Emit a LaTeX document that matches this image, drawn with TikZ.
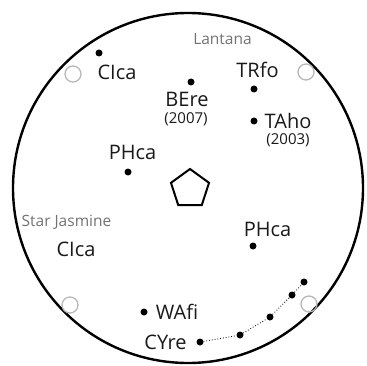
\documentclass[tikz,border=0pt]{standalone}
\usepackage{fontspec}
\setmainfont{Open Sans}
\usetikzlibrary{shapes.geometric}
\begin{document}
\begin{tikzpicture}[x=1pt,y=-1pt,
  lbl/.style={anchor=base,inner sep=0pt,font=\fontsize{20}{20}\selectfont,text=black!90},
  yr/.style={anchor=base,inner sep=0pt,font=\fontsize{15}{15}\selectfont,text=black!90},
  area/.style={anchor=base,inner sep=0pt,font=\fontsize{15.5}{15.5}\selectfont,text=black!55},
  plant/.style={circle,fill=black,inner sep=0pt,minimum size=7pt},
  post/.style={circle,draw=black!28,line width=1.3pt,inner sep=0pt,minimum size=16pt},
  conn/.style={dotted,line width=0.8pt}]
\useasboundingbox (0,0) rectangle (366,366);
\draw[line width=2.4pt] (188,188) circle (175);
\node[regular polygon,regular polygon sides=5,draw,line width=2pt,minimum size=40pt,inner sep=0pt] (pent) at (190,189) {};
% posts
\node[post] (p1) at (73,74) {};
\node[post] (p2) at (306,72) {};
\node[post] (p3) at (70,305) {};
\node[post] (p4) at (309,304) {};
% area labels
\node[area] (lant) at (222.5,45) {Lantana};
\node[area] (star) at (66.5,226) {Star Jasmine};
% plants
\node[plant] (d1) at (99,53) {};
\node[lbl] (t1) at (117,80) {CIca};
\node[plant] (d2) at (191,82) {};
\node[lbl] (t2) at (187,107) {BEre};
\node[yr] (y2) at (186,124) {(2007)};
\node[lbl] (t3) at (257.5,78) {TRfo};
\node[plant] (d3) at (254,89) {};
\node[plant] (d4) at (254,121) {};
\node[lbl] (t4) at (288,129) {TAho};
\node[yr] (y4) at (288,145) {(2003)};
\node[lbl] (t5) at (132.5,159) {PHca};
\node[plant] (d5) at (128,172) {};
\node[lbl] (t6) at (76,256) {CIca};
\node[lbl] (t7) at (267.5,236) {PHca};
\node[plant] (d7) at (253,246) {};
\node[plant] (d8) at (144,312) {};
\node[lbl] (t8) at (177,319) {WAfi};
\node[lbl] (t9) at (165.5,349) {CYre};
\node[plant] (c0) at (200,342) {};
\node[plant] (c1) at (240,335) {};
\node[plant] (c2) at (270,317) {};
\node[plant] (c3) at (292,295) {};
\node[plant] (c4) at (304,282) {};
\draw[conn] (c0) -- (c1) -- (c2) -- (c3) -- (c4);
\end{tikzpicture}
\end{document}
